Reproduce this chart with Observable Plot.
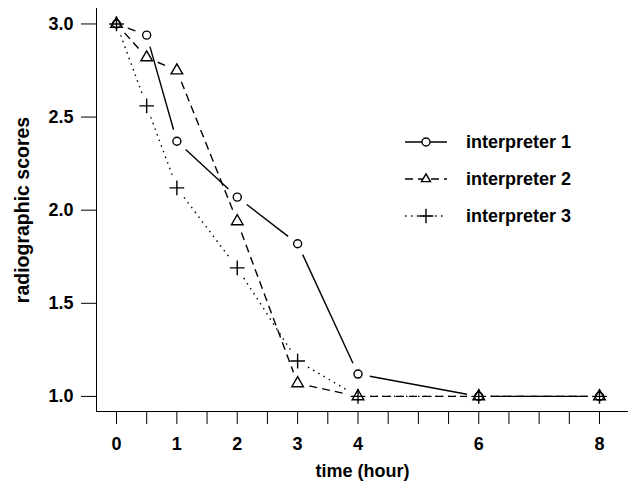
<!DOCTYPE html>
<html><head><meta charset="utf-8">
<script src="https://cdn.jsdelivr.net/npm/d3@7"></script>
<script src="https://cdn.jsdelivr.net/npm/@observablehq/plot@0.6"></script>
<style>body{margin:0;background:#fff} svg{display:block}</style>
</head><body><div id="chart"></div>
<script>
// ---- data ----
const timeHours = [0, 0.5, 1, 2, 3, 4, 6, 8];
const interpreter1 = [3.0, 2.94, 2.37, 2.07, 1.82, 1.12, 1.0, 1.0];
const interpreter2 = [3.0, 2.82, 2.75, 1.94, 1.07, 1.0, 1.0, 1.0];
const interpreter3 = [3.0, 2.56, 2.12, 1.69, 1.19, 1.0, 1.0, 1.0];
const seriesNames = ["interpreter 1", "interpreter 2", "interpreter 3"];
const xTickValues = [0, 0.5, 1, 1.5, 2, 2.5, 3, 3.5, 4, 4.5, 5, 5.5, 6, 6.5, 7, 7.5, 8];
const xTickLabels = [0, 1, 2, 3, 4, 6, 8];
const yTickValues = [1.0, 1.5, 2.0, 2.5, 3.0];

// ---- styles ----
const seriesValues = [interpreter1, interpreter2, interpreter3];
const styles = [
  {symbol: "circle", r: 4, dash: "none", d3sym: d3.symbolCircle},
  {symbol: "triangle", r: 4.3, dash: "8,5", d3sym: d3.symbolTriangle2},
  {symbol: "plus", r: 4.8, dash: "1.5,4.5", d3sym: d3.symbolPlus}
];
const SW = 1.4;

function segments(values) {
  return values.slice(1).map((v, i) => ({x1: timeHours[i], y1: values[i], x2: timeHours[i + 1], y2: v}));
}
function points(values) {
  return values.map((v, i) => ({x: timeHours[i], y: v}));
}

const marks = [];
seriesValues.forEach((vals, k) => {
  marks.push(Plot.arrow(segments(vals), {
    x1: "x1", y1: "y1", x2: "x2", y2: "y2",
    headLength: 0, insetStart: 12, insetEnd: 12,
    stroke: "black", strokeWidth: SW, strokeDasharray: styles[k].dash, strokeLinecap: "butt"
  }));
});
seriesValues.forEach((vals, k) => {
  marks.push(Plot.dot(points(vals), {
    x: "x", y: "y", symbol: styles[k].symbol, r: styles[k].r,
    stroke: "black", strokeWidth: SW, fill: "none"
  }));
});

const chart = Plot.plot({
  width: 628,
  height: 484,
  marginLeft: 96,
  marginRight: 0,
  marginTop: 8,
  marginBottom: 73,
  style: {fontFamily: "'Liberation Sans', Arial, sans-serif", fontSize: "18px", fontWeight: "bold", color: "black", background: "white"},
  x: {
    domain: [-0.331, 8.48],
    ticks: xTickValues,
    tickFormat: d => xTickLabels.includes(d) ? String(d) : "",
    tickSize: 13, tickPadding: 13, line: true,
    label: "time (hour)", labelAnchor: "center", labelOffset: 65, labelArrow: "none"
  },
  y: {
    domain: [0.919, 3.083],
    ticks: yTickValues,
    tickFormat: d3.format(".1f"),
    tickSize: 15, tickPadding: 8, line: true,
    label: "radiographic scores", labelAnchor: "center", labelOffset: 81, labelArrow: "none"
  },
  marks
});
document.getElementById("chart").append(chart);

// slightly larger y-axis title as in the reference
d3.select(chart).selectAll('g[aria-label="y-axis label"] text').style("font-size", "19.5px");

// ---- legend ----
const svg = d3.select(chart);
const lg = svg.append("g").attr("class", "legend").attr("text-anchor", "start");
seriesNames.forEach((name, k) => {
  const cy = 142 + 37 * k;
  lg.append("line").attr("x1", 405).attr("x2", 447).attr("y1", cy).attr("y2", cy)
    .attr("stroke", "black").attr("stroke-width", SW)
    .attr("stroke-dasharray", styles[k].dash);
  lg.append("path").attr("transform", `translate(426,${cy})`)
    .attr("d", d3.symbol(styles[k].d3sym, Math.PI * styles[k].r * styles[k].r)())
    .attr("fill", "white").attr("stroke", "black").attr("stroke-width", SW);
  lg.append("text").attr("x", 466).attr("y", cy).attr("dy", "0.35em")
    .attr("text-anchor", "start").attr("fill", "black").text(name);
});
</script>
</body></html>
